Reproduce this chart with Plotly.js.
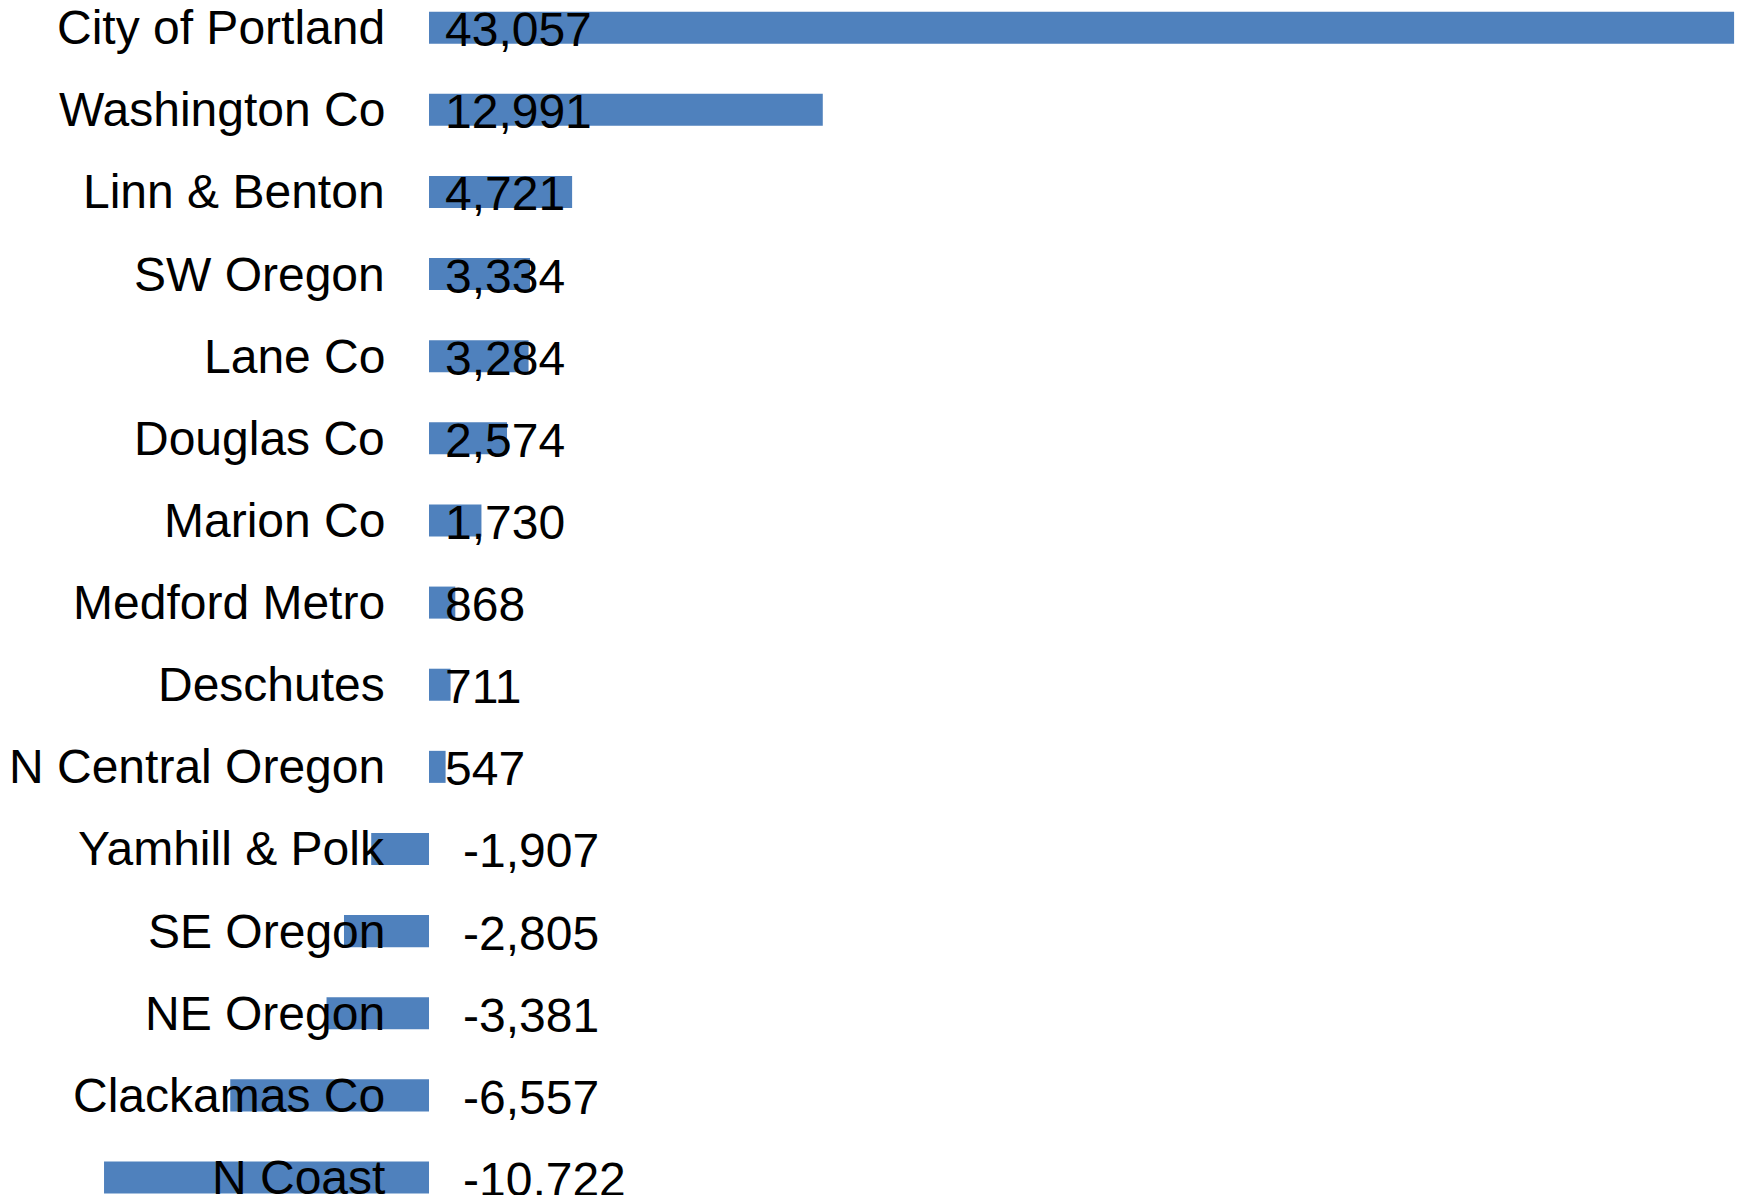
<!DOCTYPE html>
<html>
<head>
<meta charset="utf-8">
<script src="https://cdn.plot.ly/plotly-3.0.1.min.js"></script>
<style>html,body{margin:0;padding:0;background:#fff;}#chart{width:1738px;height:1195px;}</style>
</head>
<body>
<div id="chart"></div>
<script>
const categories = ["City of Portland","Washington Co","Linn & Benton","SW Oregon","Lane Co","Douglas Co","Marion Co","Medford Metro","Deschutes","N Central Oregon","Yamhill & Polk","SE Oregon","NE Oregon","Clackamas Co","N Coast"];
const values = [43057,12991,4721,3334,3284,2574,1730,868,711,547,-1907,-2805,-3381,-6557,-10722];

const FONT = "Liberation Sans, Arial, sans-serif";
const FS = 48;

const annotations = [];
categories.forEach((c, i) => {
  annotations.push({
    x: 0, y: c, xref: 'x', yref: 'y', text: c, showarrow: false,
    xanchor: 'right', yanchor: 'middle', xshift: -42, yshift: 0,
    font: {family: FONT, size: FS, color: '#000'}
  });
  annotations.push({
    x: 0, y: c, xref: 'x', yref: 'y', text: values[i].toLocaleString('en-US'), showarrow: false,
    xanchor: 'left', yanchor: 'middle', xshift: values[i] >= 0 ? 14 : 32, yshift: -2,
    font: {family: FONT, size: FS, color: '#000'}
  });
});

const trace = {
  type: 'bar', orientation: 'h', x: values, y: categories,
  marker: {color: '#4F81BD', line: {width: 0}},
  hoverinfo: 'skip'
};

const layout = {
  width: 1738, height: 1195,
  margin: {l: 0, r: 0, t: 0, b: 0},
  paper_bgcolor: '#fff', plot_bgcolor: '#fff',
  bargap: 0.61,
  showlegend: false,
  xaxis: {range: [-14154, 43186], showgrid: false, zeroline: false, showticklabels: false, ticks: ''},
  yaxis: {type: 'category', range: [14.213, -0.337], showgrid: false, zeroline: false, showticklabels: false, ticks: ''},
  annotations: annotations
};

Plotly.newPlot('chart', [trace], layout, {staticPlot: true, displayModeBar: false});
</script>
</body>
</html>
